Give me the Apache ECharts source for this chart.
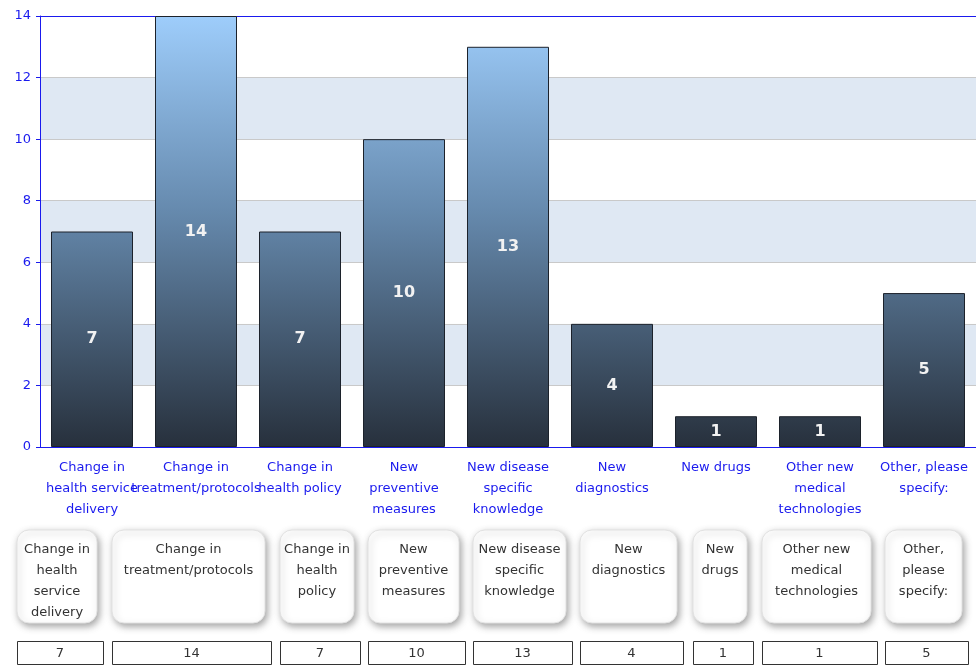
<!DOCTYPE html>
<html>
<head>
<meta charset="utf-8">
<script src="https://cdn.jsdelivr.net/npm/echarts@6/dist/echarts.min.js"></script>
<style>
  html, body { margin: 0; padding: 0; background: #ffffff; }
  #chart { width: 976px; height: 667px; }
</style>
</head>
<body>
<div id="chart"></div>
<script>
// Axis categories (wrapped for the x axis)
const categories = [
  'Change in\nhealth service\ndelivery',
  'Change in\ntreatment/protocols',
  'Change in\nhealth policy',
  'New\npreventive\nmeasures',
  'New disease\nspecific\nknowledge',
  'New\ndiagnostics',
  'New drugs',
  'Other new\nmedical\ntechnologies',
  'Other, please\nspecify:'
];

// Number of responses per category
const counts = [7, 14, 7, 10, 13, 4, 1, 1, 5];

// Labels shown in the legend table under the chart
const tableLabels = [
  'Change in\nhealth\nservice\ndelivery',
  'Change in\ntreatment/protocols',
  'Change in\nhealth\npolicy',
  'New\npreventive\nmeasures',
  'New disease\nspecific\nknowledge',
  'New\ndiagnostics',
  'New\ndrugs',
  'Other new\nmedical\ntechnologies',
  'Other,\nplease\nspecify:'
];

// Y-axis scale
const yMin = 0, yMax = 14, yStep = 2;

// Layout of the table cells (left edge and width in px)
const cellLeft = [17, 112, 280, 368, 473, 580, 693, 762, 885];
const cellWidth = [86, 159, 80, 97, 99, 103, 60, 115, 83];

const FONT = 'DejaVu Sans';
const AXIS_BLUE = '#1a1aee';
const GRID_TOP = 16, GRID_BOTTOM_PX = 447;

const chart = echarts.init(document.getElementById('chart'), null, { renderer: 'canvas' });

const barFill = new echarts.graphic.LinearGradient(0, GRID_TOP, 0, GRID_BOTTOM_PX, [
  { offset: 0, color: '#9ecdfb' },
  { offset: 0.45, color: '#668aae' },
  { offset: 1, color: '#27303c' }
], true);

// Legend table: rounded label cards and value cells
const graphics = [];
tableLabels.forEach((txt, i) => {
  const x = cellLeft[i];
  const w = cellWidth[i] - 6;
  graphics.push({
    type: 'rect',
    shape: { x: x, y: 530, width: w, height: 93, r: 12 },
    style: {
      fill: '#ffffff', stroke: '#e2e2e2', lineWidth: 1,
      shadowBlur: 7, shadowOffsetX: 2, shadowOffsetY: 3, shadowColor: 'rgba(0,0,0,0.35)'
    },
    z: 10
  });
  graphics.push({
    type: 'text',
    x: x + w / 2, y: 539,
    style: {
      text: txt, font: '13px "' + FONT + '"', fill: '#333333',
      align: 'center', verticalAlign: 'top', lineHeight: 21
    },
    z: 11
  });
  graphics.push({
    type: 'rect',
    shape: { x: cellLeft[i] + 0.5, y: 641.5, width: cellWidth[i], height: 23 },
    style: { fill: '#ffffff', stroke: '#333333', lineWidth: 1 },
    z: 10
  });
  graphics.push({
    type: 'text',
    x: cellLeft[i] + cellWidth[i] / 2, y: 653.5,
    style: {
      text: String(counts[i]), font: '13px "' + FONT + '"', fill: '#333333',
      align: 'center', verticalAlign: 'middle'
    },
    z: 11
  });
});

chart.setOption({
  animation: false,
  backgroundColor: '#ffffff',
  grid: { left: 40, right: 0, top: GRID_TOP, bottom: 667 - GRID_BOTTOM_PX, containLabel: false },
  xAxis: [
    {
      type: 'category',
      data: categories,
      axisLine: { lineStyle: { color: AXIS_BLUE, width: 1 } },
      axisTick: { alignWithLabel: true, length: 5, lineStyle: { color: AXIS_BLUE } },
      axisLabel: {
        interval: 0, hideOverlap: false, margin: 10,
        color: AXIS_BLUE, fontFamily: FONT, fontSize: 13, lineHeight: 21, align: 'center'
      },
      splitLine: { show: false }
    },
    {
      type: 'category',
      position: 'top',
      data: categories,
      axisLine: { lineStyle: { color: AXIS_BLUE, width: 1 } },
      axisTick: { show: false },
      axisLabel: { show: false }
    }
  ],
  yAxis: {
    type: 'value',
    min: yMin, max: yMax, interval: yStep,
    axisLine: { show: true, lineStyle: { color: AXIS_BLUE, width: 1 } },
    axisTick: { show: true, length: 4, lineStyle: { color: AXIS_BLUE } },
    axisLabel: { color: AXIS_BLUE, fontFamily: FONT, fontSize: 13, margin: 9 },
    splitLine: { show: true, lineStyle: { color: '#c9c9c9', width: 1 } },
    splitArea: { show: true, areaStyle: { color: ['#ffffff', '#dfe8f3'] } }
  },
  series: [{
    type: 'bar',
    data: counts,
    barWidth: 82,
    itemStyle: { color: barFill, borderColor: '#1c222b', borderWidth: 1 },
    label: {
      show: true, position: 'inside',
      color: '#f2f2f2', fontFamily: FONT, fontWeight: 'bold', fontSize: 16
    },
    emphasis: { disabled: true }
  }],
  graphic: graphics
});
</script>
</body>
</html>
